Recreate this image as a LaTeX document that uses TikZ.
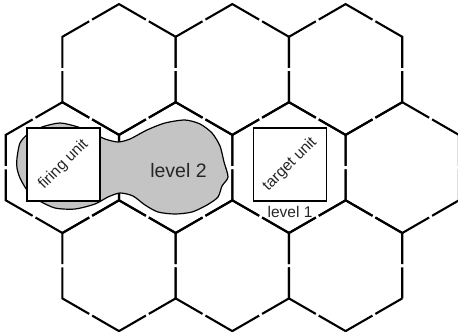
\documentclass[tikz,border=0pt]{standalone}
\usepackage{fontspec}
\setmainfont{Liberation Sans}
\usetikzlibrary{positioning}

\begin{document}
\begin{tikzpicture}[x=1pt, y=-1pt,
  every node/.style={text=black!85},
  hexside/.style ={draw, line width=2.1pt, dash pattern=on 62pt off 3.4pt, dash phase=31pt},
  levelarea/.style={draw, line width=1.2pt, fill=black!23},
  unitbox/.style ={draw, line width=1.2pt, fill=white, minimum width=73pt, minimum height=73pt, inner sep=0pt},
  unitlabel/.style={rotate=45, inner sep=0pt, font=\fontsize{15.5}{18}\selectfont},
  levellabel/.style={inner sep=0pt},
]

\useasboundingbox (0,0) rectangle (458,332);
\clip (0,0) rectangle (458,332);

% hex grid
\foreach \cx/\cy in {119/69.5, 232.3/69.5, 345.6/69.5,
                     62.4/167.6, 175.7/167.6, 289/167.6, 402.3/167.6,
                     119/265.7, 232.3/265.7, 345.6/265.7}
  \draw[hexside, shift={(\cx,\cy)}] (30:65.4) -- (90:65.4) -- (150:65.4) -- (210:65.4) -- (270:65.4) -- (330:65.4) -- cycle;

% level 2 area
\draw[levelarea] plot[smooth cycle, tension=0.45] coordinates {
  (17,158) (20,143) (28,134) (42,127) (60,123) (78,127) (92,133) (105,139)
  (118,142) (130,139) (147,130) (165,123) (185,120) (200,124) (212,133)
  (220,146) (224,162) (228,177) (222,186) (218,197) (207,205) (192,212)
  (175,214) (158,212) (145,205) (133,196) (120,193) (108,197) (95,204)
  (75,209) (55,208) (38,200) (27,190) (20,178) (17,168)};

\node[unitbox] (firing) at (63.5,164.5) {};
\node[unitlabel] (firinglabel) at (firing.center) {firing unit};

\node[unitbox] (target) at (290,164.5) {};
\node[unitlabel] (targetlabel) at (target.center) {target unit};

\node[levellabel, font=\fontsize{19.5}{22}\selectfont] (level2) at (178.5,170.5) {level 2};
\node[levellabel, font=\fontsize{15.5}{18}\selectfont, below=4pt of target] (level1) {level 1};

\end{tikzpicture}
\end{document}
